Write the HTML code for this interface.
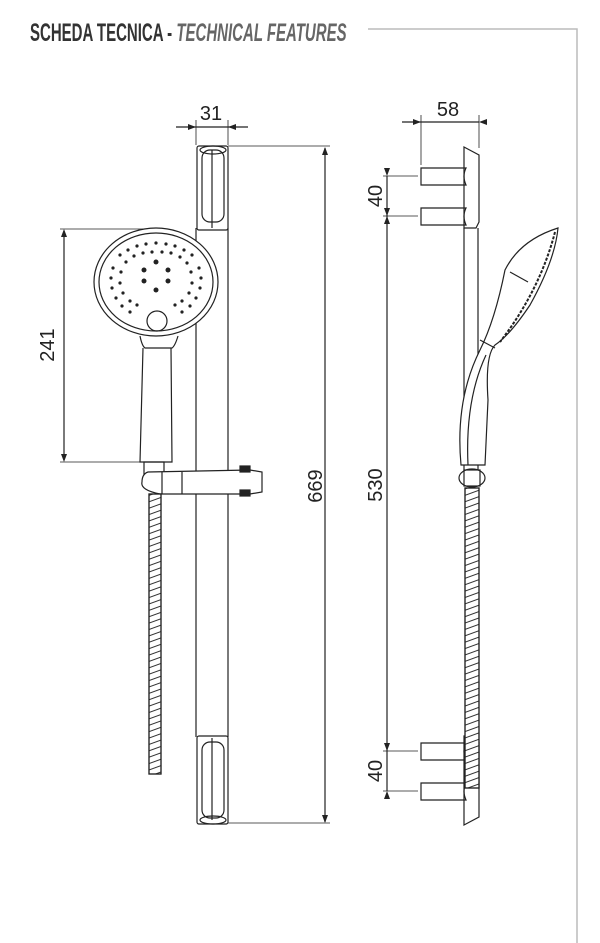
<!DOCTYPE html>
<html><head><style>
html,body{margin:0;padding:0;background:#fff;}
svg{display:block}
</style></head><body>
<svg width="600" height="943" viewBox="0 0 600 943" xmlns="http://www.w3.org/2000/svg" font-family="Liberation Sans, sans-serif">
<defs>
<pattern id="hose" width="14" height="6" patternUnits="userSpaceOnUse" patternTransform="rotate(-20)">
<rect width="14" height="6" fill="#fff"/><line x1="0" y1="0" x2="14" y2="0" stroke="#333" stroke-width="2"/>
</pattern>
</defs>
<polyline points="368,29 577,29 577,943" fill="none" stroke="#bbb" stroke-width="1.5"/>
<text y="41" font-size="25" font-weight="bold" fill="#333" transform="scale(0.6,1)"><tspan x="50">SCHEDA TECNICA - </tspan><tspan fill="#666" font-style="italic">TECHNICAL FEATURES</tspan></text>

<g fill="none" stroke="#222" stroke-width="1.2">
<line x1="176" y1="127" x2="248" y2="127"/>
<line x1="196" y1="120" x2="196" y2="145" stroke-width="0.8"/>
<line x1="228" y1="120" x2="228" y2="145" stroke-width="0.8"/>
<line x1="228" y1="146" x2="330" y2="146" stroke-width="0.8"/>
<line x1="228" y1="823" x2="330" y2="823" stroke-width="0.8"/>
<line x1="325" y1="148" x2="325" y2="822"/>
<line x1="196" y1="228" x2="196" y2="737"/>
<line x1="228" y1="228" x2="228" y2="737"/>
<rect x="197" y="146" width="31" height="84" rx="2"/>
<rect x="202" y="150" width="22" height="72" rx="8"/>
<line x1="212" y1="150" x2="212" y2="228"/>
<ellipse cx="213" cy="150" rx="13" ry="4"/>
<rect x="197" y="736" width="31" height="88" rx="2"/>
<rect x="202" y="742" width="22" height="76" rx="8"/>
<line x1="212" y1="738" x2="212" y2="820"/>
<ellipse cx="213" cy="820" rx="13" ry="4"/>
<line x1="60" y1="229" x2="155" y2="229" stroke-width="0.8"/>
<line x1="60" y1="462" x2="140" y2="462" stroke-width="0.8"/>
<line x1="64" y1="231" x2="64" y2="460"/>
<ellipse cx="156" cy="282" rx="62" ry="54" fill="#fff"/>
<ellipse cx="156" cy="282" rx="57" ry="49"/>
<circle cx="157" cy="321" r="10"/>
<path d="M140 336 Q142 346 145 348 L172 348 Q175 346 178 336"/>
<path d="M143 348 L140 462 L172 462 L171 348"/>
<rect x="144" y="462" width="20" height="12"/>
<path d="M148 472 L250 470 L262 472 L262 492 L250 494 L160 494 Q140 490 142 482 Q142 474 148 472Z" fill="#fff"/>
<line x1="162" y1="472" x2="162" y2="494"/>
<line x1="182" y1="472" x2="182" y2="494"/>
<rect x="240" y="466" width="10" height="6" fill="#222"/>
<rect x="240" y="490" width="10" height="6" fill="#222"/>
<rect x="149" y="494" width="12" height="280" fill="url(#hose)"/>
<rect x="149" y="494" width="12" height="280"/>

<line x1="402" y1="122" x2="479" y2="122"/>
<line x1="421" y1="115" x2="421" y2="165" stroke-width="0.8"/>
<line x1="479" y1="115" x2="479" y2="148" stroke-width="0.8"/>
<line x1="383" y1="176" x2="418" y2="176" stroke-width="0.8"/>
<line x1="383" y1="216" x2="418" y2="216" stroke-width="0.8"/>
<line x1="383" y1="751" x2="418" y2="751" stroke-width="0.8"/>
<line x1="383" y1="791" x2="418" y2="791" stroke-width="0.8"/>
<line x1="387" y1="176" x2="387" y2="791"/>
<path d="M464 147 L479 155 L479 222 L476 228 L464 228 Z"/>
<path d="M464 228 L464 475 M478 228 L478 475"/>
<path d="M421 168 L466 168 Q462 176 466 185 L421 185 Z"/>
<path d="M421 208 L466 208 Q462 216 466 225 L421 225 Z"/>
<path d="M464 825 L479 817 L479 742 L476 736 L464 736 Z"/>
<path d="M421 743 L466 743 Q462 751 466 760 L421 760 Z"/>
<path d="M421 783 L466 783 Q462 791 466 800 L421 800 Z"/>
<path d="M461 465 Q455 400 480 350 Q495 320 505 270 Q520 240 558 228 Q555 260 530 305 Q510 335 495 345 Q485 355 488 400 L485 465 Z" fill="#fff"/>
<path d="M468 465 Q465 400 486 355"/>
<line x1="480" y1="340" x2="495" y2="348"/>
<line x1="510" y1="272" x2="528" y2="282"/>
<path d="M555 232 Q540 290 500 342" stroke-dasharray="3,1.5" stroke-width="2"/>
<ellipse cx="472" cy="478" rx="13" ry="9" fill="#fff"/>
<rect x="464" y="470" width="16" height="16"/>
<rect x="465" y="488" width="14" height="300" fill="url(#hose)"/>
<rect x="465" y="488" width="14" height="300"/>
</g>
<g fill="#222">
<path d="M196 127 l-8 -3 v6z"/><path d="M228 127 l8 -3 v6z"/>
<path d="M325 147 l-3 8 h6z"/><path d="M325 823 l-3 -8 h6z"/>
<path d="M64 229 l-3 8 h6z"/><path d="M64 462 l-3 -8 h6z"/>
<path d="M421 122 l-8 -3 v6z"/><path d="M479 122 l8 -3 v6z"/>
<path d="M387 176 l-3 -8 h6z"/><path d="M387 216 l-3 8 h6z"/>
<path d="M387 751 l-3 -8 h6z"/><path d="M387 791 l-3 8 h6z"/>
<path d="M387 216 l-3 -8 h6z"/>
</g>
<g fill="#222">
<circle cx="156" cy="262" r="2.5"/><circle cx="144" cy="270" r="2.5"/><circle cx="168" cy="270" r="2.5"/>
<circle cx="144" cy="281" r="2.5"/><circle cx="168" cy="281" r="2.5"/><circle cx="156" cy="290" r="2.5"/>
<circle cx="120" cy="255" r="1.6"/><circle cx="128" cy="250" r="1.6"/><circle cx="137" cy="246" r="1.6"/><circle cx="146" cy="244" r="1.6"/><circle cx="156" cy="243" r="1.6"/><circle cx="166" cy="244" r="1.6"/><circle cx="175" cy="246" r="1.6"/><circle cx="184" cy="250" r="1.6"/><circle cx="192" cy="255" r="1.6"/>
<circle cx="126" cy="262" r="1.6"/><circle cx="134" cy="256" r="1.6"/><circle cx="143" cy="253" r="1.6"/><circle cx="152" cy="252" r="1.6"/><circle cx="162" cy="252" r="1.6"/><circle cx="171" cy="253" r="1.6"/><circle cx="180" cy="257" r="1.6"/><circle cx="187" cy="263" r="1.6"/>
<circle cx="113" cy="268" r="1.6"/><circle cx="111" cy="278" r="1.6"/><circle cx="112" cy="288" r="1.6"/><circle cx="116" cy="298" r="1.6"/><circle cx="122" cy="306" r="1.6"/><circle cx="130" cy="312" r="1.6"/>
<circle cx="121" cy="272" r="1.6"/><circle cx="120" cy="283" r="1.6"/><circle cx="123" cy="293" r="1.6"/><circle cx="130" cy="301" r="1.6"/><circle cx="137" cy="305" r="1.6"/>
<circle cx="199" cy="268" r="1.6"/><circle cx="201" cy="278" r="1.6"/><circle cx="200" cy="288" r="1.6"/><circle cx="196" cy="298" r="1.6"/><circle cx="190" cy="306" r="1.6"/><circle cx="182" cy="312" r="1.6"/>
<circle cx="191" cy="272" r="1.6"/><circle cx="192" cy="283" r="1.6"/><circle cx="189" cy="293" r="1.6"/><circle cx="182" cy="301" r="1.6"/><circle cx="175" cy="305" r="1.6"/>
</g>
<g font-size="20" fill="#222">
<text x="211" y="120" text-anchor="middle">31</text>
<text x="448" y="116" text-anchor="middle">58</text>
<text transform="translate(322,486) rotate(-90)" text-anchor="middle">669</text>
<text transform="translate(54,345) rotate(-90)" text-anchor="middle">241</text>
<text transform="translate(382,485) rotate(-90)" text-anchor="middle">530</text>
<text transform="translate(382,196) rotate(-90)" text-anchor="middle">40</text>
<text transform="translate(382,771) rotate(-90)" text-anchor="middle">40</text>
</g>
</svg>
</body></html>
